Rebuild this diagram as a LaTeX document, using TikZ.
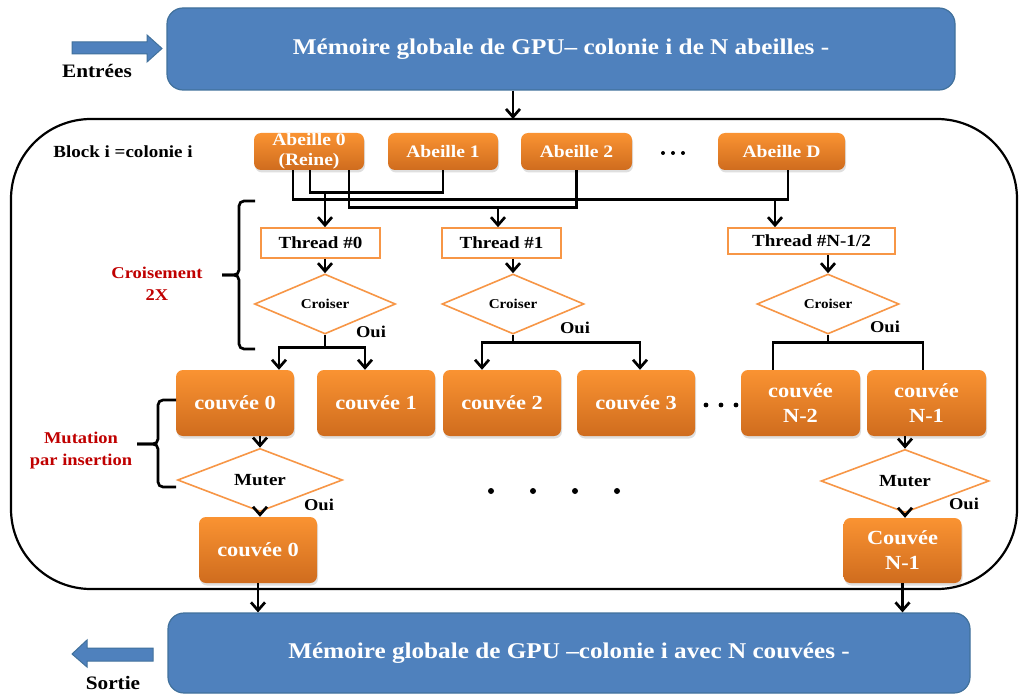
\documentclass[tikz,border=0pt]{standalone}
\usepackage{fontspec}
\setmainfont{Liberation Serif}[FakeStretch=1.12]
\usetikzlibrary{arrows.meta,shapes.geometric,shadows}
\definecolor{gpublue}{HTML}{4F81BD}
\definecolor{gpuedge}{HTML}{41719C}
\definecolor{orgtop}{HTML}{FA9332}
\definecolor{orgbot}{HTML}{CF6C1E}
\definecolor{orgline}{HTML}{F79646}
\definecolor{labred}{HTML}{C00000}
\newcommand{\fs}[1]{\fontsize{#1}{1.15\dimexpr#1pt\relax}\selectfont}
\begin{document}
\begin{tikzpicture}[x=1pt,y=-1pt,font=\bfseries,
  mem/.style={draw=gpuedge,line width=1.2pt,fill=gpublue,rounded corners=16pt,
    text=white,font=\bfseries\fs{22.5},inner sep=0},
  flow/.style={draw=gpuedge,line width=1pt,fill=gpublue},
  orangebox/.style={rounded corners=7pt,top color=orgtop,bottom color=orgbot,draw=none,
    text=white,align=center,inner sep=0,
    drop shadow={opacity=0.25,shadow xshift=1pt,shadow yshift=-2.5pt}},
  bee/.style={orangebox,font=\bfseries\fontsize{17.5}{20}\selectfont,minimum height=37pt},
  brood/.style={orangebox,font=\bfseries\fontsize{20}{25}\selectfont,minimum width=118pt,minimum height=66pt},
  thread/.style={draw=orgline,line width=1.6pt,fill=white,inner sep=0,font=\bfseries\fs{17}},
  test/.style={diamond,draw=orgline,line width=1.6pt,fill=white,inner sep=0},
  link/.style={line width=2.7pt},
  arr/.style={line width=2.7pt,-{Straight Barb[length=8pt,width=14pt]}},
  yes/.style={font=\bfseries\fs{16.5}},
  side/.style={text=labred,align=center,font=\bfseries\fontsize{16.5}{22}\selectfont},
  brace/.style={line width=2.7pt,rounded corners=5pt},
  dot/.style={fill=black}]
\useasboundingbox (0,0) rectangle (1019,695);
\fill[white] (0,0) rectangle (1019,695);

% global memory, input side
\node[mem,minimum width=788pt,minimum height=82pt] (gin) at (561,49)
  {Mémoire globale de GPU– colonie i de N abeilles -};
\draw[flow] (72,42) -- (147,42) -- (147,35) -- (162,48.5) -- (147,62) -- (147,54) -- (72,54) -- cycle;
\node[font=\bfseries\fs{19}] (lin) at (97,71) {Entrées};

% the block holding one colony
\node[draw,line width=2.2pt,rounded corners=80pt,minimum width=1006pt,minimum height=470pt] (blk) at (514,354) {};
\coordinate (kin) at (513,119);
\draw[arr] (gin.south -| kin) -- (kin);
\node[font=\bfseries\fs{17}] (lblk) at (123,152) {Block i =colonie i};

% bees
\node[bee,minimum width=110pt] (a0) at (309,151.5) {Abeille 0\\(Reine)};
\node[bee,minimum width=110pt] (a1) at (443,151.5) {Abeille 1};
\node[bee,minimum width=111pt] (a2) at (576.5,151.5) {Abeille 2};
\node[bee,minimum width=127pt] (aD) at (781.5,151.5) {Abeille D};
\foreach \x in {663,673,683} \fill[dot] (\x,153) circle (2pt);

% pairing of bees
\draw[link] ([xshift=1pt]a0.south) -- ++(0,22) -| (a1.south);
\draw[link] ([xshift=-16pt]a0.south) -- ++(0,29) -| ([xshift=6.5pt]aD.south);
\draw[link] ([xshift=40pt]a0.south) -- ++(0,37) -| (a2.south);

% threads
\node[thread,minimum width=119pt,minimum height=30pt] (t0) at (320.5,243) {Thread \#0};
\node[thread,minimum width=119pt,minimum height=30pt] (t1) at (501.5,243) {Thread \#1};
\node[thread,minimum width=167pt,minimum height=26pt] (tN) at (811.5,241) {Thread \#N-1/2};
\coordinate (j0) at (325,192);
\coordinate (j1) at (498,207);
\coordinate (jN) at (775,199);
\draw[arr] (j0) -- (j0 |- t0.north);
\draw[arr] (j1) -- (j1 |- t1.north);
\draw[arr] (jN) -- (jN |- tN.north);

% crossover tests
\node[test,minimum width=141pt,minimum height=60pt,font=\bfseries\fs{13.5}] (c0) at (325,304) {Croiser};
\node[test,minimum width=142pt,minimum height=60pt,font=\bfseries\fs{13.5}] (c1) at (513,304) {Croiser};
\node[test,minimum width=142pt,minimum height=60pt,font=\bfseries\fs{13.5}] (cN) at (828,304) {Croiser};
\draw[arr] (t0.south -| c0.north) -- (c0.north);
\draw[arr] (t1.south -| c1.north) -- (c1.north);
\draw[arr] (tN.south -| cN.north) -- (cN.north);
\node[yes] (o0) at (371,332) {Oui};
\node[yes] (o1) at (575,328) {Oui};
\node[yes] (oN) at (885,327) {Oui};

% broods
\node[brood] (b0) at (235,403) {couvée 0};
\node[brood] (b1) at (376,403) {couvée 1};
\node[brood] (b2) at (502,403) {couvée 2};
\node[brood] (b3) at (636,403) {couvée 3};
\node[brood,minimum width=119pt] (bN2) at (800.5,403) {couvée\\N-2};
\node[brood,minimum width=119pt] (bN1) at (926.5,403) {couvée\\N-1};
\foreach \x in {706,721,736} \fill[dot] (\x,405) circle (2.4pt);

\draw[link] (c0.south) -- ++(0,13) coordinate (k0);
\draw[arr] (k0) -| ([xshift=44pt]b0.north);
\draw[arr] (k0) -| ([xshift=-11pt]b1.north);
\draw[link] (c1.south) -- ++(0,8) coordinate (k1);
\draw[arr] (k1) -| ([xshift=-20pt]b2.north);
\draw[arr] (k1) -| ([xshift=4pt]b3.north);
\draw[link] (cN.south) -- ++(0,8) coordinate (kN);
\draw[link] (kN) -| ([xshift=-27.5pt]bN2.north);
\draw[link] (kN) -| ([xshift=-3.5pt]bN1.north);

% mutation tests
\node[test,minimum width=165pt,minimum height=56pt,font=\bfseries\fs{17}] (m0) at (260,480) {Muter};
\node[test,minimum width=168pt,minimum height=58pt,font=\bfseries\fs{17}] (mN) at (905,481) {Muter};
\draw[arr] (b0.south -| m0.north) -- (m0.north);
\draw[arr] (bN1.south -| mN.north) -- (mN.north);
\node[yes] (p0) at (319,505) {Oui};
\node[yes] (pN) at (964,504) {Oui};
\foreach \x in {491,533,575,617} \fill[dot] (\x,491) circle (3pt);

% mutated broods
\node[brood] (r0) at (258,550) {couvée 0};
\node[brood,minimum height=65pt] (rN) at (902.5,550.5) {Couvée\\N-1};
\draw[arr] (m0.south) -- (m0.south |- r0.north);
\draw[arr] (mN.south) -- (mN.south |- rN.north);

% braces and phase labels
\draw[brace] (255,201) -| (239,275) -- (222,275);
\draw[brace] (222,275) -- (239,275) |- (255,349);
\node[side] (lcx) at (157,284) {Croisement\\2X};
\draw[brace] (176,400) -| (158,444) -- (137,444);
\draw[brace] (137,444) -- (158,444) |- (176,487);
\node[side] (lmu) at (81,451) {Mutation\\par insertion};

% global memory, output side
\node[mem,minimum width=802pt,minimum height=80pt] (gout) at (569,653)
  {Mémoire globale de GPU –colonie i avec N couvées -};
\draw[arr] (r0.south) -- (r0.south |- gout.north);
\draw[arr] (rN.south) -- (rN.south |- gout.north);
\draw[flow] (72,654) -- (87,640) -- (87,648) -- (153,648) -- (153,661) -- (87,661) -- (87,667) -- cycle;
\node[font=\bfseries\fs{19}] (lout) at (113,683) {Sortie};
\end{tikzpicture}
\end{document}
